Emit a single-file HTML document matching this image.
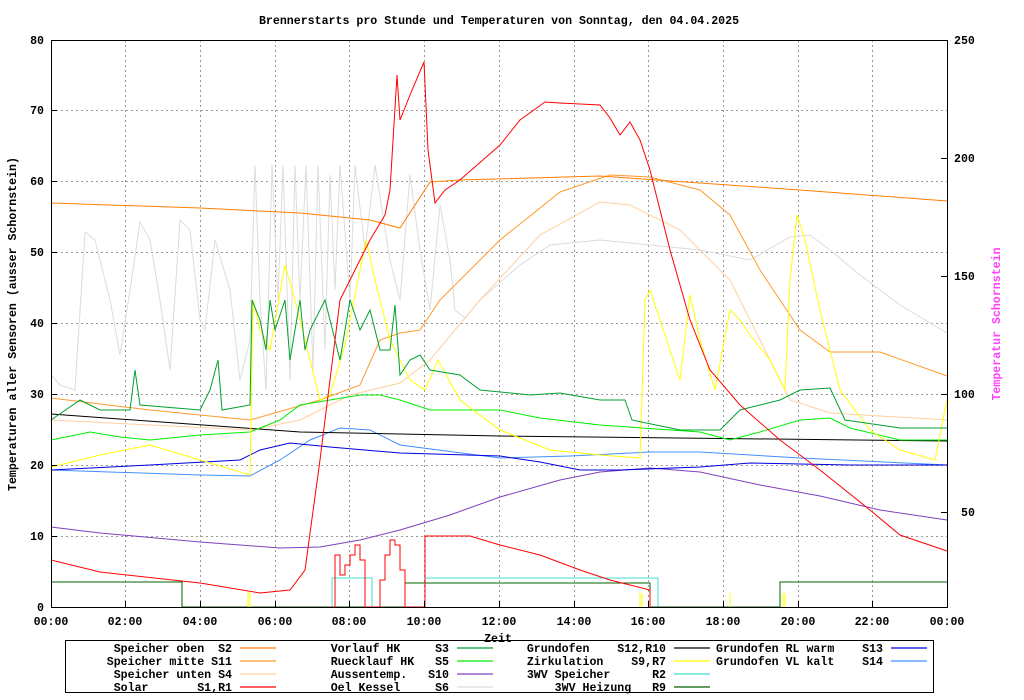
<!DOCTYPE html>
<html><head><meta charset="utf-8"><style>
body{margin:0;background:#fff;}
svg{display:block;font-family:"Liberation Mono",monospace;font-weight:bold;font-size:11.6px;}
text{white-space:pre;}
</style></head><body>
<svg width="1024" height="700" xmlns="http://www.w3.org/2000/svg">
<rect width="1024" height="700" fill="#fff"/>
<text x="499" y="24" text-anchor="middle">Brennerstarts pro Stunde und Temperaturen von Sonntag, den 04.04.2025</text>
<g stroke="#999" stroke-dasharray="2,3" stroke-width="1">
<path d="M51,536.5H947M51,465.5H947M51,394.5H947M51,323.5H947M51,252.5H947M51,181.5H947M51,110.5H947"/>
<path d="M125.5,40V607M200.5,40V607M275.5,40V607M349.5,40V607M424.5,40V607M499.5,40V607M574.5,40V607M648.5,40V607M723.5,40V607M798.5,40V607M872.5,40V607"/>
</g>
<g fill="none" stroke-width="1">
<polyline stroke="#dcdcdc" points="51,375 60,385 75,390 85,232 95,240 110,300 120,355 130,290 140,222 150,240 160,300 170,370 180,220 190,230 200,320 205,330 215,240 230,290 240,380 250,340 255,165 260,300 266,390 272,165 278,300 283,165 290,380 295,165 300,300 306,165 313,370 318,165 325,350 330,175 335,290 340,165 350,300 355,165 365,250 375,165 390,260 400,300 410,175 420,250 430,310 440,205 450,260 455,310 465,318 480,300 520,265 550,245 600,240 650,245 700,250 750,260 790,237 810,235 830,250 860,275 900,305 947,333"/>
<polyline stroke="#ffd0a0" points="51,420 250,430 300,420 350,395 400,383 430,360 480,300 540,235 600,202 630,205 680,230 730,280 760,340 790,400 830,413 947,420"/>
<polyline stroke="#ff9a30" points="51,398 150,410 250,420 320,400 360,385 380,340 400,333 420,330 440,300 500,240 560,192 610,175 650,177 700,190 730,215 760,270 800,330 830,352 880,352 947,376"/>
<polyline stroke="#ff8000" points="51,203 200,208 300,213 370,220 400,228 430,182 460,180 600,176 700,183 800,190 947,201"/>
<polyline stroke="#7f40c0" points="51,527 100,533 200,542 280,548 320,547 360,540 400,530 450,515 500,497 560,480 600,472 650,468 700,472 760,485 820,496 880,510 947,520"/>
<polyline stroke="#4090ff" points="51,470 200,475 250,476 280,460 310,440 340,428 370,430 400,445 500,458 570,456 650,452 700,452 800,458 947,465"/>
<polyline stroke="#0000e0" points="51,470 150,465 240,460 260,450 290,443 330,447 400,453 500,456 540,462 580,470 620,470 700,467 750,463 850,465 947,465"/>
<polyline stroke="#000" points="51,414 300,432 500,436 947,441"/>
<polyline stroke="#00ee00" points="51,440 90,432 120,437 150,440 200,435 250,432 280,420 300,405 330,400 360,395 380,395 400,400 430,410 480,410 500,410 540,418 600,425 700,432 730,440 760,432 800,420 830,418 850,428 900,440 947,440"/>
<polyline stroke="#ffff00" points="51,467 100,455 150,445 200,460 250,475 253,300 260,330 270,350 285,265 295,300 305,340 320,400 330,395 345,345 360,270 366,240 375,280 390,340 410,380 425,390 438,360 460,400 500,430 550,450 600,455 640,458 645,300 650,290 660,320 680,380 690,295 700,340 715,390 730,310 740,320 750,335 770,360 785,390 790,280 797,215 805,240 820,310 840,390 870,430 900,450 935,460 947,400"/>
<polyline stroke="#00a030" points="51,420 80,400 100,410 130,410 135,370 140,405 200,410 210,390 218,360 222,410 250,405 252,300 260,320 266,350 270,300 275,330 285,300 290,360 300,300 305,350 310,330 325,300 340,360 350,300 360,330 370,310 380,350 390,350 395,305 400,375 410,360 420,355 430,370 460,375 480,390 530,395 560,393 600,400 625,400 632,420 680,430 720,430 740,410 780,400 800,390 830,388 845,420 900,428 947,428"/>
<polyline stroke="#ff0000" points="51,560 100,572 200,583 260,593 290,590 305,570 320,460 340,300 360,260 370,240 385,215 390,190 397,75 400,120 410,95 424,62 428,150 435,203 445,190 460,180 500,145 520,120 545,102 560,103 600,105 610,118 620,135 630,122 640,140 650,170 670,250 690,320 710,370 740,405 780,440 820,470 870,510 900,535 947,551"/>
<polyline stroke="#40e0d0" points="332,607 332,578 372,578 372,607 425,607 425,578 658,578 658,607"/>
<polyline stroke="#006400" points="51,582 182,582 182,607 405,607 405,583 650,583 650,607 780,607 780,582 947,582"/>
<polyline stroke="#ff0000" points="330,607 335,607 335,555 340,555 340,575 345,575 345,565 350,565 350,555 355,555 355,545 360,545 360,560 365,560 365,607 380,607 380,580 385,580 385,555 390,555 390,540 395,540 395,545 400,545 400,570 405,570 405,607 425,607 425,536 470,536 500,545 540,555 580,570 610,580 630,585 650,590 650,607"/>
<polyline stroke="#ffff00" points="248,607 248,593 250,593 250,607 M640,607"/>
<path stroke="#ffff00" d="M640,607V593M642,607V593M730,607V593M783,607V593M785,607V593"/>
</g>
<rect x="51.5" y="40.5" width="896" height="567" fill="none" stroke="#000"/>
<g stroke="#000">
<path d="M51,536.5h6M51,465.5h6M51,394.5h6M51,323.5h6M51,252.5h6M51,181.5h6M51,110.5h6"/>
<path d="M947,512.5h-6M947,394.5h-6M947,276.5h-6M947,158.5h-6"/>
<path d="M125.5,607v-6M200.5,607v-6M275.5,607v-6M349.5,607v-6M424.5,607v-6M499.5,607v-6M574.5,607v-6M648.5,607v-6M723.5,607v-6M798.5,607v-6M872.5,607v-6"/>
</g>
<g text-anchor="end">
<text x="44" y="611">0</text><text x="44" y="540">10</text><text x="44" y="469">20</text><text x="44" y="398">30</text><text x="44" y="327">40</text><text x="44" y="256">50</text><text x="44" y="185">60</text><text x="44" y="114">70</text><text x="44" y="44">80</text>
</g>
<g>
<text x="961" y="516">50</text><text x="954" y="398">100</text><text x="954" y="280">150</text><text x="954" y="162">200</text><text x="954" y="44">250</text>
</g>
<g text-anchor="middle">
<text x="51" y="625">00:00</text><text x="125" y="625">02:00</text><text x="200" y="625">04:00</text><text x="275" y="625">06:00</text><text x="349" y="625">08:00</text><text x="424" y="625">10:00</text><text x="499" y="625">12:00</text><text x="574" y="625">14:00</text><text x="648" y="625">16:00</text><text x="723" y="625">18:00</text><text x="798" y="625">20:00</text><text x="872" y="625">22:00</text><text x="947" y="625">00:00</text>
<text x="498" y="642">Zeit</text>
<text transform="translate(16,324) rotate(-90)">Temperaturen aller Sensoren (ausser Schornstein)</text>
<text transform="translate(1000,324) rotate(-90)" fill="#ff40ff">Temperatur Schornstein</text>
</g>
<rect x="65.5" y="640.5" width="868" height="52" fill="none" stroke="#000"/>
<g text-anchor="end">
<text x="232" y="652">Speicher oben  S2</text>
<text x="232" y="665">Speicher mitte S11</text>
<text x="232" y="678">Speicher unten S4</text>
<text x="232" y="691">Solar       S1,R1</text>
<text x="449" y="652">Vorlauf HK     S3</text>
<text x="449" y="665">Ruecklauf HK   S5</text>
<text x="449" y="678">Aussentemp.   S10</text>
<text x="449" y="691">Oel Kessel     S6</text>
<text x="666" y="652">Grundofen    S12,R10</text>
<text x="666" y="665">Zirkulation    S9,R7</text>
<text x="666" y="678">3WV Speicher      R2</text>
<text x="666" y="691">3WV Heizung   R9</text>
<text x="883" y="652">Grundofen RL warm    S13</text>
<text x="883" y="665">Grundofen VL kalt    S14</text>
</g>
<g stroke-width="1.2">
<path stroke="#ff8000" d="M240,648h36"/><path stroke="#ff9a30" d="M240,661h36"/><path stroke="#ffd0a0" d="M240,674h36"/><path stroke="#ff0000" d="M240,687h36"/>
<path stroke="#00a030" d="M457,648h36"/><path stroke="#00ee00" d="M457,661h36"/><path stroke="#7f40c0" d="M457,674h36"/><path stroke="#dcdcdc" d="M457,687h36"/>
<path stroke="#000" d="M674,648h36"/><path stroke="#ffff00" d="M674,661h36"/><path stroke="#40e0d0" d="M674,674h36"/><path stroke="#006400" d="M674,687h36"/>
<path stroke="#0000e0" d="M891,648h36"/><path stroke="#4090ff" d="M891,661h36"/>
</g>
</svg>
</body></html>
